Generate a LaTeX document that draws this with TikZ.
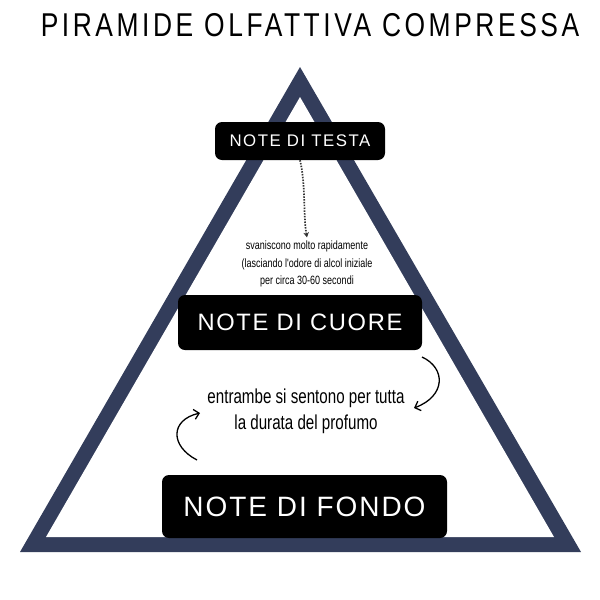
\documentclass[tikz,border=0pt]{standalone}
\usepackage{fontspec}
\setmainfont{Liberation Sans}
\newfontfamily\titlefont[FakeStretch=0.8,LetterSpace=10.8]{Liberation Sans}
\newfontfamily\notefont[LetterSpace=7]{Liberation Sans}
\newfontfamily\narrowfont[FakeStretch=0.75]{Liberation Sans}
\usetikzlibrary{arrows.meta}
\definecolor{pyramid}{HTML}{333D5B}

\tikzset{
  notebox/.style={fill=black,text=white,rounded corners=7pt,inner sep=0pt},
  hand/.style={black,line width=1.3pt,-{Straight Barb[length=5pt,width=10pt]}}
}

\begin{document}
\begin{tikzpicture}[x=1pt,y=-1pt]
  \useasboundingbox (0,0) rectangle (600,600);
  \node (title) at (310,25.5) {\titlefont\fontsize{33}{33}\selectfont PIRAMIDE OLFATTIVA COMPRESSA};

  \fill [pyramid] (300,67) -- (581,552) -- (20,552) -- cycle;
  \fill [white] (300,97) -- (554,537) -- (46,537) -- cycle;

  \node [notebox,minimum width=170pt,minimum height=38pt,
         font={\notefont\addfontfeature{LetterSpace=9}\fontsize{16.8}{17}\selectfont}] (testa) at (300,141) {NOTE DI TESTA};
  \node [notebox,minimum width=244pt,minimum height=55pt,
         font={\notefont\fontsize{23.7}{24}\selectfont}] (cuore) at (300,322.5) {NOTE DI CUORE};
  \node [notebox,minimum width=285pt,minimum height=63pt,
         font={\notefont\fontsize{28}{28}\selectfont}] (fondo) at (304.5,506.5) {NOTE DI FONDO};

  \node [align=center,font={\narrowfont\fontsize{12}{17.5}\selectfont}] (fade) at (307,264)
        {svaniscono molto rapidamente\\(lasciando l'odore di alcol iniziale\\per circa 30-60 secondi};
  \node [align=center,font={\narrowfont\fontsize{20.2}{26}\selectfont}] (lasting) at (306,411)
        {entrambe si sentono per tutta\\la durata del profumo};

  \coordinate (r1) at (422,357);
  \coordinate (r2) at (414,408);
  \coordinate (l1) at (197,460);
  \coordinate (l2) at (200,413);

  \draw [black!80,line width=1.7pt,dash pattern=on 1.5pt off 1.3pt,-{Stealth[length=5pt,width=5.5pt]}]
        (testa.south) .. controls (306,185) and (303,215) .. (fade.north);
  \draw [hand] (r1) .. controls (446,368) and (446,396) .. (r2);
  \draw [hand] (l1) .. controls (170,446) and (170,420) .. (l2);
\end{tikzpicture}
\end{document}
